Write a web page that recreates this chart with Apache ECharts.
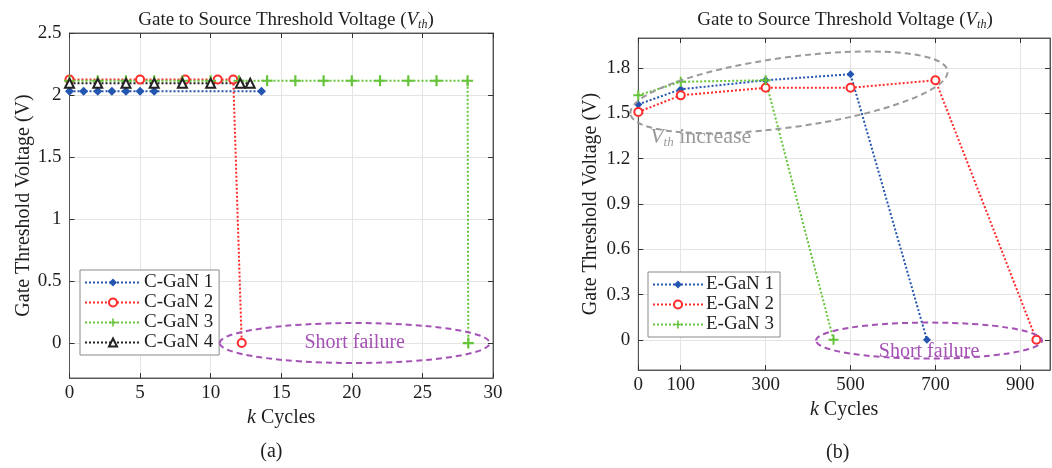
<!DOCTYPE html>
<html><head><meta charset="utf-8">
<script src="https://cdn.jsdelivr.net/npm/echarts@6/dist/echarts.min.js"></script>
<style>html,body{margin:0;padding:0;background:#fff}#c{width:1052px;height:468px}</style>
</head><body><div id="c"></div>
<script>
// ---- tick labels ----
const leftXTicks = [0, 5, 10, 15, 20, 25, 30];
const leftYTicks = [0, 0.5, 1, 1.5, 2, 2.5];
const rightXTicks = [0, 100, 300, 500, 700, 900];
const rightYTicks = [0, 0.3, 0.6, 0.9, 1.2, 1.5, 1.8];

// ---- (a) C-GaN series: k cycles / threshold voltage ----
const c1X = [0, 1, 2, 3, 4, 5, 6, 13.6];
const c1Y = [2.03, 2.03, 2.03, 2.03, 2.03, 2.03, 2.03, 2.03];
const c2X = [0, 5, 8.2, 10.5, 11.6, 12.2];
const c2Y = [2.125, 2.125, 2.125, 2.125, 2.125, 0];
const c3X = [0, 2, 4, 6, 8, 10, 12, 14, 16, 18, 20, 22, 24, 26, 28.2, 28.25];
const c3Y = [2.115, 2.115, 2.115, 2.115, 2.115, 2.115, 2.115, 2.115, 2.115, 2.115, 2.115, 2.115, 2.115, 2.115, 2.115, 0];
const c4X = [0, 2, 4, 6, 8, 10, 12.1, 12.8];
const c4Y = [2.095, 2.095, 2.095, 2.095, 2.095, 2.095, 2.095, 2.095];

// ---- (b) E-GaN series ----
const e1X = [0, 100, 300, 500, 680];
const e1Y = [1.56, 1.66, 1.72, 1.76, 0];
const e2X = [0, 100, 300, 500, 700, 938];
const e2Y = [1.51, 1.62, 1.67, 1.67, 1.72, 0];
const e3X = [0, 100, 300, 460];
const e3Y = [1.62, 1.71, 1.72, 0];

const cNames = ['C-GaN 1', 'C-GaN 2', 'C-GaN 3', 'C-GaN 4'];
const eNames = ['E-GaN 1', 'E-GaN 2', 'E-GaN 3'];

const FONT = 'Liberation Serif';
const TXT = '#1e1e1e';
const BLUE = '#2456b0', RED = '#ff2b2b', GREEN = '#66c43a', BLACK = '#222222';
const PURPLE = '#a552b5', GRAYE = '#9a9a9a';
const PLUS = 'path://M4,0 L6,0 L6,4 L10,4 L10,6 L6,6 L6,10 L4,10 L4,6 L0,6 L0,4 L4,4 Z';

const pairs = (xs, ys) => xs.map((x, i) => [x, ys[i]]);

function mkAxis(dim, grid, min, max, ticks, mirror, name, nameGap) {
  const a = {
    type: 'value', gridIndex: grid, min: min, max: max,
    position: dim === 'x' ? (mirror ? 'top' : 'bottom') : (mirror ? 'right' : 'left'),
    axisLine: { show: true, onZero: false, lineStyle: { color: '#555', width: 1 } },
    axisTick: { show: true, inside: true, length: 5, customValues: ticks, lineStyle: { color: '#333' } },
    axisLabel: { show: !mirror, customValues: ticks, color: TXT, fontFamily: FONT, fontSize: 19, margin: dim === 'x' ? 6 : 8 },
    splitLine: { show: !mirror, lineStyle: { color: '#e4e4e4', width: 1 } }
  };
  if (name) {
    a.name = name; a.nameLocation = 'middle'; a.nameGap = nameGap;
    a.nameTextStyle = { color: TXT, fontFamily: FONT, fontSize: 20,
      rich: { i: { fontStyle: 'italic', fontFamily: FONT, fontSize: 20, color: TXT },
              n: { fontFamily: FONT, fontSize: 20, color: TXT } } };
  }
  return a;
}

function titleOf(cx) {
  return {
    text: '{n|Gate to Source Threshold Voltage (}{v|V}{s|th}{n|)}',
    left: cx, top: 4, textAlign: 'center',
    textStyle: { fontWeight: 'normal', rich: {
      n: { fontFamily: FONT, fontSize: 19, fontWeight: 'normal', color: TXT, lineHeight: 22 },
      v: { fontFamily: FONT, fontSize: 19, fontWeight: 'normal', fontStyle: 'italic', color: TXT, lineHeight: 22 },
      s: { fontFamily: FONT, fontSize: 12, fontWeight: 'normal', fontStyle: 'italic', color: TXT, lineHeight: 22, padding: [9, 0, 0, 0] }
    } }
  };
}

function lineSeries(name, data, color, symbol, size, xi, filled) {
  return {
    name: name, type: 'line', data: data, xAxisIndex: xi, yAxisIndex: xi,
    symbol: symbol, symbolSize: size, showSymbol: true,
    lineStyle: { color: color, width: 2, type: 'dotted' },
    itemStyle: { color: filled ? color : '#fff', borderColor: color, borderWidth: filled ? 0 : 2 },
    animation: false, z: 3
  };
}

function legendOf(names, left, top, w) {
  return {
    data: names, orient: 'vertical', left: left, top: top,
    backgroundColor: '#fff', borderColor: '#8a8a8a', borderWidth: 1,
    padding: [3, 6, 3, 4], itemGap: 1, itemWidth: w, itemHeight: 10,
    textStyle: { fontFamily: FONT, fontSize: 19, color: TXT, padding: [0, 0, 0, -2] }
  };
}

const chart = echarts.init(document.getElementById('c'), null, { renderer: 'canvas' });
const option = {
  animation: false,
  backgroundColor: '#fff',
  title: [titleOf(281), titleOf(840)],
  grid: [
    { left: 69.5, right: 559, top: 33, bottom: 90, show: true, borderColor: '#666', borderWidth: 1 },
    { left: 638.3, right: 2, top: 38, bottom: 98, show: true, borderColor: '#666', borderWidth: 1 }
  ],
  xAxis: [
    mkAxis('x', 0, 0, 30, leftXTicks, false, '{i|k}{n| Cycles}', 22),
    mkAxis('x', 0, 0, 30, leftXTicks, true),
    mkAxis('x', 1, 0, 970, rightXTicks, false, '{i|k}{n| Cycles}', 29),
    mkAxis('x', 1, 0, 970, rightXTicks, true)
  ],
  yAxis: [
    mkAxis('y', 0, -0.282, 2.5, leftYTicks, false, 'Gate Threshold Voltage (V)', 36),
    mkAxis('y', 0, -0.282, 2.5, leftYTicks, true),
    mkAxis('y', 1, -0.2, 2.0, rightYTicks, false, 'Gate Threshold Voltage (V)', 38),
    mkAxis('y', 1, -0.2, 2.0, rightYTicks, true)
  ],
  legend: [legendOf(cNames, 80, 270, 56), legendOf(eNames, 648, 272, 50)],
  series: [
    lineSeries(cNames[0], pairs(c1X, c1Y), BLUE, 'diamond', 9, 0, true),
    lineSeries(cNames[1], pairs(c2X, c2Y), RED, 'circle', 8, 0, false),
    lineSeries(cNames[2], pairs(c3X, c3Y), GREEN, PLUS, 11, 0, true),
    lineSeries(cNames[3], pairs(c4X, c4Y), BLACK, 'triangle', 9, 0, false),
    lineSeries(eNames[0], pairs(e1X, e1Y), BLUE, 'diamond', 8, 2, true),
    lineSeries(eNames[1], pairs(e2X, e2Y), RED, 'circle', 8, 2, false),
    lineSeries(eNames[2], pairs(e3X, e3Y), GREEN, PLUS, 10, 2, true)
  ]
};
chart.setOption(option);

// annotations placed through the axes' own scales
const pA = (x, y) => chart.convertToPixel({ xAxisIndex: 0, yAxisIndex: 0 }, [x, y]);
const pB = (x, y) => chart.convertToPixel({ xAxisIndex: 2, yAxisIndex: 2 }, [x, y]);
const sfA = pA(20.2, 0);
const sfB = pB(685, -0.005);
const vi = pB(355, 1.64);
const vt = pB(28, 1.34);
const capA = pA(14.3, -0.88);
const capB = pB(470, -0.75);
const dashed = (c) => ({ fill: 'none', stroke: c, lineWidth: 2, lineDash: [6, 4] });
const ctr = { align: 'center', verticalAlign: 'middle', textAlign: 'center', textVerticalAlign: 'middle' };
chart.setOption({
  graphic: [
    { type: 'ellipse', x: sfA[0], y: sfA[1], shape: { cx: 0, cy: 0, rx: 135, ry: 20 }, style: dashed(PURPLE), z: 10 },
    { type: 'text', x: sfA[0], y: sfA[1], z: 11,
      style: Object.assign({ text: 'Short failure', fill: PURPLE, font: '20px "Liberation Serif"' }, ctr) },
    { type: 'ellipse', x: sfB[0], y: sfB[1], shape: { cx: 0, cy: 0, rx: 113, ry: 18 }, style: dashed(PURPLE), z: 10 },
    { type: 'text', x: sfB[0], y: sfB[1] + 11, z: 11,
      style: Object.assign({ text: 'Short failure', fill: PURPLE, font: '20px "Liberation Serif"' }, ctr) },
    { type: 'ellipse', x: vi[0], y: vi[1], rotation: 0.135, shape: { cx: 0, cy: 0, rx: 160, ry: 35 }, style: dashed(GRAYE), z: 10 },
    { type: 'text', x: vt[0], y: vt[1], z: 11,
      style: { text: '{v|V}{s|th}{n| increase}', verticalAlign: 'middle', textVerticalAlign: 'middle',
        rich: {
          v: { fontFamily: FONT, fontSize: 22, fontStyle: 'italic', fill: GRAYE, lineHeight: 24 },
          s: { fontFamily: FONT, fontSize: 13, fontStyle: 'italic', fill: GRAYE, lineHeight: 24, padding: [10, 0, 0, 0] },
          n: { fontFamily: FONT, fontSize: 22, fill: GRAYE, lineHeight: 24 }
        } } },
    { type: 'text', x: capA[0], y: capA[1], z: 11,
      style: Object.assign({ text: '(a)', fill: TXT, font: '20px "Liberation Serif"' }, ctr) },
    { type: 'text', x: capB[0], y: capB[1], z: 11,
      style: Object.assign({ text: '(b)', fill: TXT, font: '20px "Liberation Serif"' }, ctr) }
  ]
});
</script></body></html>
